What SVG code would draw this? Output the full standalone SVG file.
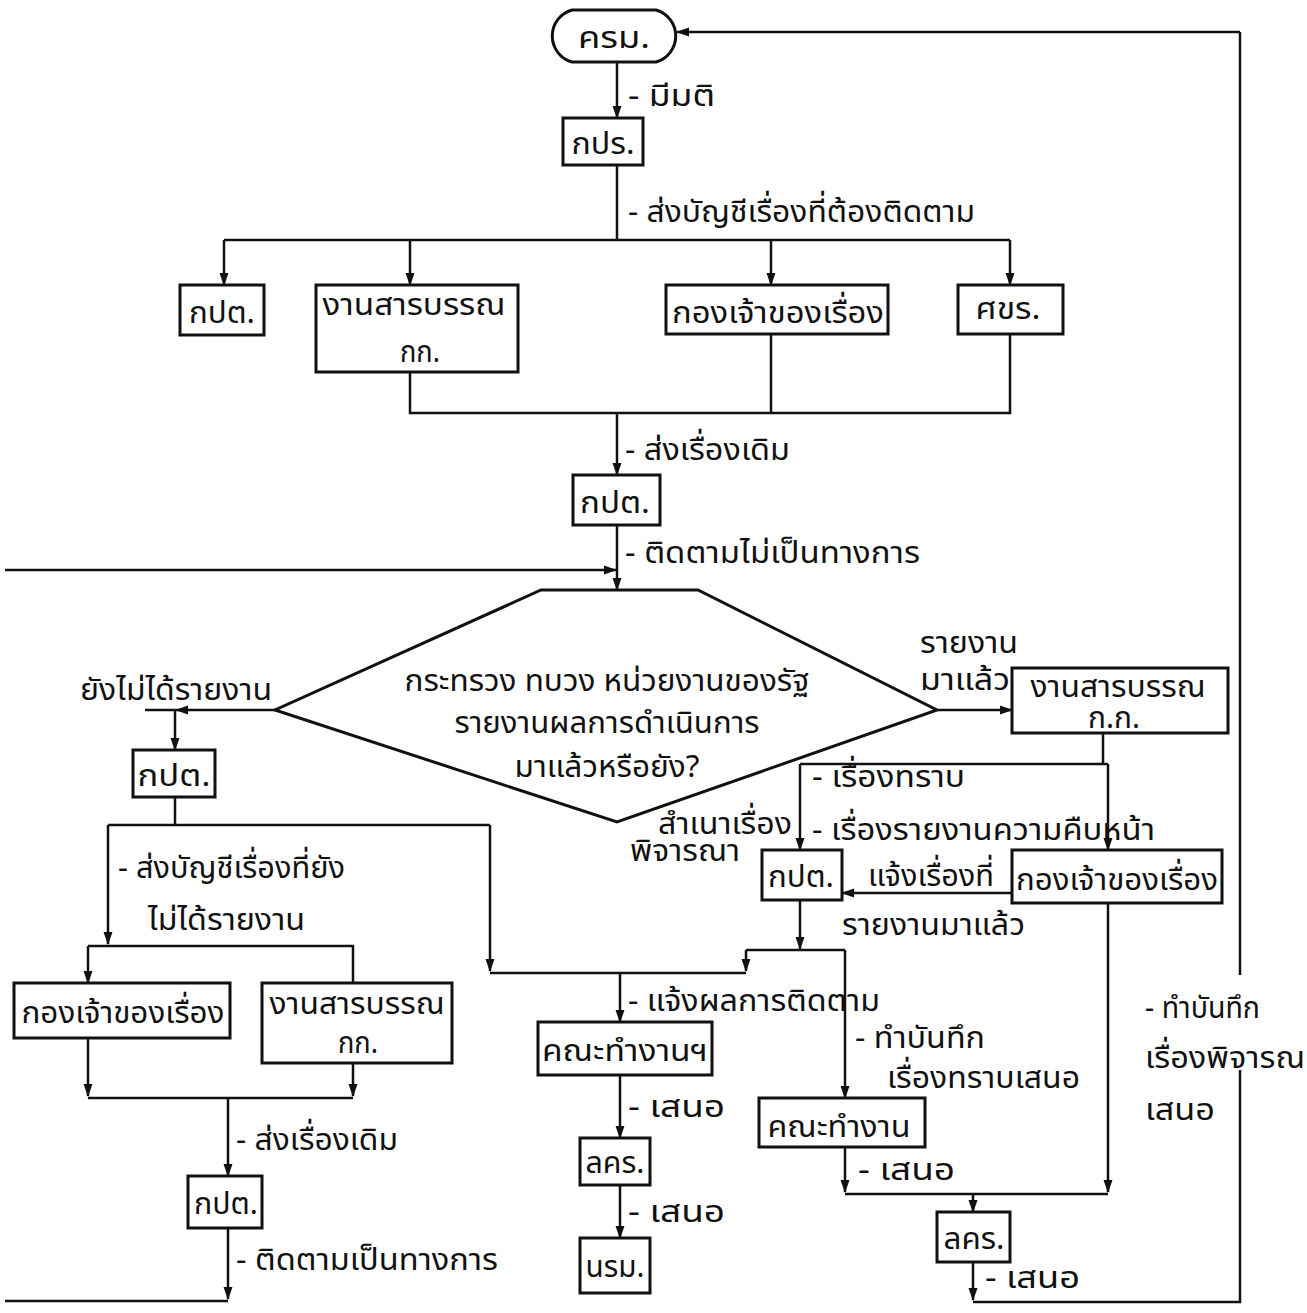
<svg xmlns="http://www.w3.org/2000/svg" width="1307" height="1313" viewBox="0 0 1307 1313">
<style>
.bg{fill:#ffffff}
.box{fill:#ffffff;stroke:#111111;stroke-width:3}
.ln{fill:none;stroke:#111111;stroke-width:2.5}
.t{font-family:"Noto Sans Thai","Noto Sans","DejaVu Sans",sans-serif;font-size:31px;fill:#111111}
.m{text-anchor:middle}
</style>
<defs>
<marker id="ar" markerUnits="userSpaceOnUse" markerWidth="13" markerHeight="12" viewBox="0 0 13 12" refX="12" refY="6" orient="auto">
<path d="M0,1.5 L13,6 L0,10.5 Z" fill="#111111"/>
</marker>
</defs>
<rect class="bg" x="0" y="0" width="1307" height="1313"/>

<g id="connectors">
<path class="ln" d="M617,62 V118" marker-end="url(#ar)"/>
<path class="ln" d="M617,165 V240 M224,240 H1010"/>
<path class="ln" d="M224,240 V285" marker-end="url(#ar)"/>
<path class="ln" d="M410,240 V285" marker-end="url(#ar)"/>
<path class="ln" d="M771,240 V285" marker-end="url(#ar)"/>
<path class="ln" d="M1010,240 V285" marker-end="url(#ar)"/>
<path class="ln" d="M410,372 V413 H1010 V334 M771,334 V413"/>
<path class="ln" d="M617,413 V475" marker-end="url(#ar)"/>
<path class="ln" d="M617,525 V590" marker-end="url(#ar)"/>
<path class="ln" d="M5,570 H616" marker-end="url(#ar)"/>
<path class="ln" d="M275,710 H176" marker-end="url(#ar)"/>
<path class="ln" d="M176,710 H145"/>
<path class="ln" d="M175,710 V750" marker-end="url(#ar)"/>
<path class="ln" d="M175,797 V825 M108,825 H490"/>
<path class="ln" d="M108,825 V944" marker-end="url(#ar)"/>
<path class="ln" d="M88,946 H353 V983"/>
<path class="ln" d="M88,946 V983" marker-end="url(#ar)"/>
<path class="ln" d="M88,1038 V1096" marker-end="url(#ar)"/>
<path class="ln" d="M353,1063 V1096" marker-end="url(#ar)"/>
<path class="ln" d="M88,1098 H353"/>
<path class="ln" d="M228,1098 V1176" marker-end="url(#ar)"/>
<path class="ln" d="M228,1228 V1299" marker-end="url(#ar)"/>
<path class="ln" d="M5,1301 H228"/>
<path class="ln" d="M490,825 V971" marker-end="url(#ar)"/>
<path class="ln" d="M490,973 H746"/>
<path class="ln" d="M800,900 V949" marker-end="url(#ar)"/>
<path class="ln" d="M746,950 H845"/>
<path class="ln" d="M746,950 V971" marker-end="url(#ar)"/>
<path class="ln" d="M845,950 V1098" marker-end="url(#ar)"/>
<path class="ln" d="M620,973 V1022" marker-end="url(#ar)"/>
<path class="ln" d="M620,1075 V1138" marker-end="url(#ar)"/>
<path class="ln" d="M620,1185 V1238" marker-end="url(#ar)"/>
<path class="ln" d="M937,710 H1012" marker-end="url(#ar)"/>
<path class="ln" d="M1103,733 V764 M800,764 H1108"/>
<path class="ln" d="M800,764 V850" marker-end="url(#ar)"/>
<path class="ln" d="M1108,764 V850" marker-end="url(#ar)"/>
<path class="ln" d="M1012,893 H842" marker-end="url(#ar)"/>
<path class="ln" d="M845,1147 V1192" marker-end="url(#ar)"/>
<path class="ln" d="M845,1194 H1108"/>
<path class="ln" d="M1108,903 V1192" marker-end="url(#ar)"/>
<path class="ln" d="M973,1194 V1212" marker-end="url(#ar)"/>
<path class="ln" d="M973,1262 V1300" marker-end="url(#ar)"/>
<path class="ln" d="M973,1302 H1240 V1070 M1240,975 V32"/>
<path class="ln" d="M1240,32 H677" marker-end="url(#ar)"/>
</g>

<g id="labels">
<text class="t" x="628" y="106" textLength="87" lengthAdjust="spacingAndGlyphs">- มีมติ</text>
<text class="t" x="628" y="222" textLength="347" lengthAdjust="spacingAndGlyphs">- ส่งบัญชีเรื่องที่ต้องติดตาม</text>
<text class="t" x="625" y="460" textLength="165" lengthAdjust="spacingAndGlyphs">- ส่งเรื่องเดิม</text>
<text class="t" x="625" y="563" textLength="295" lengthAdjust="spacingAndGlyphs">- ติดตามไม่เป็นทางการ</text>
<text class="t" x="80" y="700" textLength="192" lengthAdjust="spacingAndGlyphs">ยังไม่ได้รายงาน</text>
<text class="t" x="118" y="878" textLength="227" lengthAdjust="spacingAndGlyphs">- ส่งบัญชีเรื่องที่ยัง</text>
<text class="t" x="148" y="930" textLength="157" lengthAdjust="spacingAndGlyphs">ไม่ได้รายงาน</text>
<text class="t" x="236" y="1150" textLength="162" lengthAdjust="spacingAndGlyphs">- ส่งเรื่องเดิม</text>
<text class="t" x="236" y="1270" textLength="262" lengthAdjust="spacingAndGlyphs">- ติดตามเป็นทางการ</text>
<text class="t" x="920" y="653" textLength="98" lengthAdjust="spacingAndGlyphs">รายงาน</text>
<text class="t" x="920" y="690" textLength="90" lengthAdjust="spacingAndGlyphs">มาแล้ว</text>
<text class="t" x="812" y="787" textLength="153" lengthAdjust="spacingAndGlyphs">- เรื่องทราบ</text>
<text class="t" x="812" y="840" textLength="343" lengthAdjust="spacingAndGlyphs">- เรื่องรายงานความคืบหน้า</text>
<text class="t" x="658" y="834" textLength="134" lengthAdjust="spacingAndGlyphs">สำเนาเรื่อง</text>
<text class="t" x="630" y="861" textLength="110" lengthAdjust="spacingAndGlyphs">พิจารณา</text>
<text class="t" x="868" y="886" textLength="126" lengthAdjust="spacingAndGlyphs">แจ้งเรื่องที่</text>
<text class="t" x="842" y="935" textLength="183" lengthAdjust="spacingAndGlyphs">รายงานมาแล้ว</text>
<text class="t" x="628" y="1011" textLength="252" lengthAdjust="spacingAndGlyphs">- แจ้งผลการติดตาม</text>
<text class="t" x="855" y="1048" textLength="130" lengthAdjust="spacingAndGlyphs">- ทำบันทึก</text>
<text class="t" x="887" y="1088" textLength="193" lengthAdjust="spacingAndGlyphs">เรื่องทราบเสนอ</text>
<text class="t" x="858" y="1180" textLength="97" lengthAdjust="spacingAndGlyphs">- เสนอ</text>
<text class="t" x="628" y="1117" textLength="97" lengthAdjust="spacingAndGlyphs">- เสนอ</text>
<text class="t" x="628" y="1222" textLength="97" lengthAdjust="spacingAndGlyphs">- เสนอ</text>
<text class="t" x="1145" y="1018" textLength="115" lengthAdjust="spacingAndGlyphs">- ทำบันทึก</text>
<text class="t" x="1145" y="1068" textLength="160" lengthAdjust="spacingAndGlyphs">เรื่องพิจารณ</text>
<text class="t" x="1145" y="1120" textLength="70" lengthAdjust="spacingAndGlyphs">เสนอ</text>
<text class="t" x="985" y="1288" textLength="95" lengthAdjust="spacingAndGlyphs">- เสนอ</text>
</g>

<g id="n-krm">
<path class="box" d="M572,10 H656 A27,27 0 0 1 656,62 H572 A27,27 0 0 1 572,10 Z"/>
<text class="t m" x="614" y="48" textLength="72" lengthAdjust="spacingAndGlyphs">ครม.</text>
</g>
<g id="n-kpr">
<rect class="box" x="563" y="118" width="80" height="47"/>
<text class="t m" x="603" y="154" textLength="63" lengthAdjust="spacingAndGlyphs">กปร.</text>
</g>
<g id="n-kpt1">
<rect class="box" x="180" y="285" width="84" height="50"/>
<text class="t m" x="222" y="323" textLength="66" lengthAdjust="spacingAndGlyphs">กปต.</text>
</g>
<g id="n-sarabun1">
<rect class="box" x="316" y="285" width="202" height="87"/>
<text class="t m" x="414" y="315" textLength="183" lengthAdjust="spacingAndGlyphs">งานสารบรรณ</text>
<text class="t m" x="420" y="362" textLength="40" lengthAdjust="spacingAndGlyphs">กก.</text>
</g>
<g id="n-owner1">
<rect class="box" x="666" y="285" width="222" height="49"/>
<text class="t m" x="778" y="323" textLength="212" lengthAdjust="spacingAndGlyphs">กองเจ้าของเรื่อง</text>
</g>
<g id="n-skr">
<rect class="box" x="958" y="285" width="105" height="49"/>
<text class="t m" x="1008" y="319" textLength="65" lengthAdjust="spacingAndGlyphs">ศขร.</text>
</g>
<g id="n-kpt2">
<rect class="box" x="573" y="475" width="87" height="50"/>
<text class="t m" x="615" y="513" textLength="70" lengthAdjust="spacingAndGlyphs">กปต.</text>
</g>
<g id="n-decision">
<polygon class="box" points="541,590 698,590 937,710 617,822 275,710"/>
<text class="t m" x="607" y="691" textLength="405" lengthAdjust="spacingAndGlyphs">กระทรวง ทบวง หน่วยงานของรัฐ</text>
<text class="t m" x="607" y="733" textLength="305" lengthAdjust="spacingAndGlyphs">รายงานผลการดำเนินการ</text>
<text class="t m" x="607" y="777" textLength="185" lengthAdjust="spacingAndGlyphs">มาแล้วหรือยัง?</text>
</g>
<g id="n-kpt3">
<rect class="box" x="133" y="750" width="82" height="47"/>
<text class="t m" x="174" y="786" textLength="73" lengthAdjust="spacingAndGlyphs">กปต.</text>
</g>
<g id="n-owner2">
<rect class="box" x="14" y="983" width="216" height="55"/>
<text class="t m" x="123" y="1023" textLength="203" lengthAdjust="spacingAndGlyphs">กองเจ้าของเรื่อง</text>
</g>
<g id="n-sarabun2">
<rect class="box" x="262" y="983" width="190" height="80"/>
<text class="t m" x="357" y="1014" textLength="175" lengthAdjust="spacingAndGlyphs">งานสารบรรณ</text>
<text class="t m" x="358" y="1053" textLength="40" lengthAdjust="spacingAndGlyphs">กก.</text>
</g>
<g id="n-kpt4">
<rect class="box" x="188" y="1176" width="74" height="52"/>
<text class="t m" x="226" y="1214" textLength="64" lengthAdjust="spacingAndGlyphs">กปต.</text>
</g>
<g id="n-sarabun3">
<rect class="box" x="1012" y="668" width="216" height="65"/>
<text class="t m" x="1118" y="697" textLength="175" lengthAdjust="spacingAndGlyphs">งานสารบรรณ</text>
<text class="t m" x="1114" y="728" textLength="52" lengthAdjust="spacingAndGlyphs">ก.ก.</text>
</g>
<g id="n-kpt5">
<rect class="box" x="762" y="850" width="80" height="50"/>
<text class="t m" x="801" y="887" textLength="66" lengthAdjust="spacingAndGlyphs">กปต.</text>
</g>
<g id="n-owner3">
<rect class="box" x="1012" y="850" width="210" height="53"/>
<text class="t m" x="1117" y="890" textLength="202" lengthAdjust="spacingAndGlyphs">กองเจ้าของเรื่อง</text>
</g>
<g id="n-team1">
<rect class="box" x="538" y="1022" width="174" height="53"/>
<text class="t m" x="625" y="1061" textLength="166" lengthAdjust="spacingAndGlyphs">คณะทำงานฯ</text>
</g>
<g id="n-lkr1">
<rect class="box" x="580" y="1138" width="70" height="47"/>
<text class="t m" x="615" y="1173" textLength="59" lengthAdjust="spacingAndGlyphs">ลคร.</text>
</g>
<g id="n-nrm">
<rect class="box" x="580" y="1238" width="70" height="55"/>
<text class="t m" x="615" y="1277" textLength="59" lengthAdjust="spacingAndGlyphs">นรม.</text>
</g>
<g id="n-team2">
<rect class="box" x="759" y="1098" width="166" height="49"/>
<text class="t m" x="839" y="1137" textLength="143" lengthAdjust="spacingAndGlyphs">คณะทำงาน</text>
</g>
<g id="n-lkr2">
<rect class="box" x="937" y="1212" width="73" height="50"/>
<text class="t m" x="974" y="1249" textLength="61" lengthAdjust="spacingAndGlyphs">ลคร.</text>
</g>
</svg>
